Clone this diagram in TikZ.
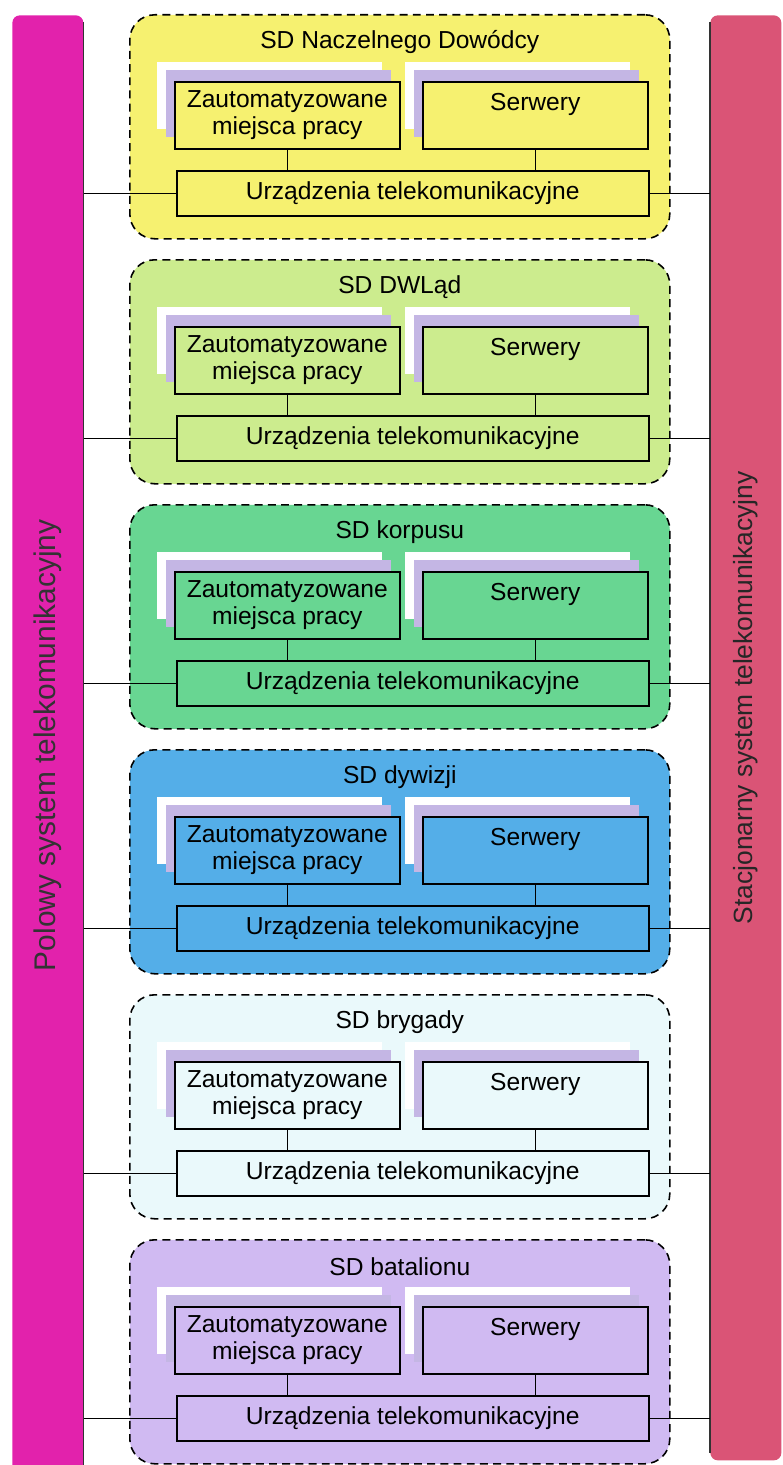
\documentclass[tikz,border=0pt]{standalone}
\usepackage{fontspec}
\setmainfont{Liberation Sans}
\usepackage{tikz}
\usetikzlibrary{positioning,shadows}
\definecolor{sdyellow}{RGB}{246,241,112}
\definecolor{sdlime}{RGB}{204,236,142}
\definecolor{sdgreen}{RGB}{104,214,146}
\definecolor{sdblue}{RGB}{84,174,232}
\definecolor{sdice}{RGB}{234,249,251}
\definecolor{sdlilac}{RGB}{208,186,242}
\definecolor{sdshade}{RGB}{196,182,228}
\definecolor{polmag}{RGB}{226,34,172}
\definecolor{stacred}{RGB}{218,84,118}
\newcommand\sdfont{\fontsize{14}{15.5}\selectfont}
\tikzset{
  panel/.style={draw, dash pattern=on 4.5pt off 3pt, line width=0.9pt,
    rounded corners=0.5cm, anchor=north west, inner sep=0pt,
    minimum width=10.8cm, minimum height=4.48cm},
  unit/.style={draw, line width=0.9pt, anchor=north west, inner sep=0pt,
    minimum width=4.5cm, minimum height=1.34cm, align=center, font=\sdfont,
    general shadow={fill=white, shadow xshift=-0.36cm, shadow yshift=0.4cm},
    general shadow={fill=sdshade, shadow xshift=-0.18cm, shadow yshift=0.23cm}},
  telebox/.style={draw, line width=0.9pt, anchor=north west, inner sep=0pt,
    minimum width=9.44cm, minimum height=0.9cm, font=\sdfont},
  sysbar/.style={anchor=north west, inner sep=0pt, rounded corners=0.15cm,
    minimum width=1.42cm},
  link/.style={line width=0.75pt}
}
\begin{document}
\begin{tikzpicture}
  \useasboundingbox (0,0) rectangle (15.64,-29.3);

  % systemy telekomunikacyjne
  \node[sysbar, fill=polmag, minimum height=29.2cm] (polowy) at (0.24,-0.3) {};
  \node[sysbar, fill=stacred, minimum height=28.9cm] (stacjo) at (14.2,-0.3) {};
  \draw[line width=0.8pt, black!80] ([yshift=-0.15cm]polowy.north east)
    -- (polowy.south east);
  \draw[line width=0.8pt, black!80] ([yshift=-0.15cm]stacjo.north west)
    -- ([yshift=0.15cm]stacjo.south west);
  \node[rotate=90, font=\fontsize{17}{20}\selectfont, text=black!80] (poltxt)
    at (polowy.center) {Polowy system telekomunikacyjny};
  \node[rotate=90, font=\fontsize{15}{18}\selectfont, text=black!85] (statxt)
    at ([yshift=0.8cm]stacjo.center) {Stacjonarny system telekomunikacyjny};

  % stanowiska dowodzenia
  \foreach \i/\col/\name in {0/sdyellow/Naczelnego Dowódcy, 1/sdlime/DWLąd,
      2/sdgreen/korpusu, 3/sdblue/dywizji, 4/sdice/brygady, 5/sdlilac/batalionu}{
    \node[panel, fill=\col] (sd\i) at (2.58,{-0.28-4.9*\i}) {};
    \node[font=\sdfont] (tyt\i) at ([yshift=-0.56cm]sd\i.north) {SD \name};
    \node[unit, fill=\col] (zmp\i) at ([shift={(0.9,-1.34)}]sd\i.north west)
      {Zautomatyzowane\\miejsca pracy};
    \node[unit, fill=\col] (serw\i) at ([shift={(5.86,-1.34)}]sd\i.north west)
      {Serwery\\\mbox{}};
    \node[telebox, fill=\col] (urz\i) at ([shift={(0.94,-3.12)}]sd\i.north west)
      {Urządzenia telekomunikacyjne};

    \draw[link] (zmp\i.south) -- (zmp\i.south |- urz\i.north);
    \draw[link] (serw\i.south) -- (serw\i.south |- urz\i.north);
    \draw[link] (urz\i.west) -- (urz\i.west -| polowy.east);
    \draw[link] (urz\i.east) -- (urz\i.east -| stacjo.west);
  }
\end{tikzpicture}
\end{document}
